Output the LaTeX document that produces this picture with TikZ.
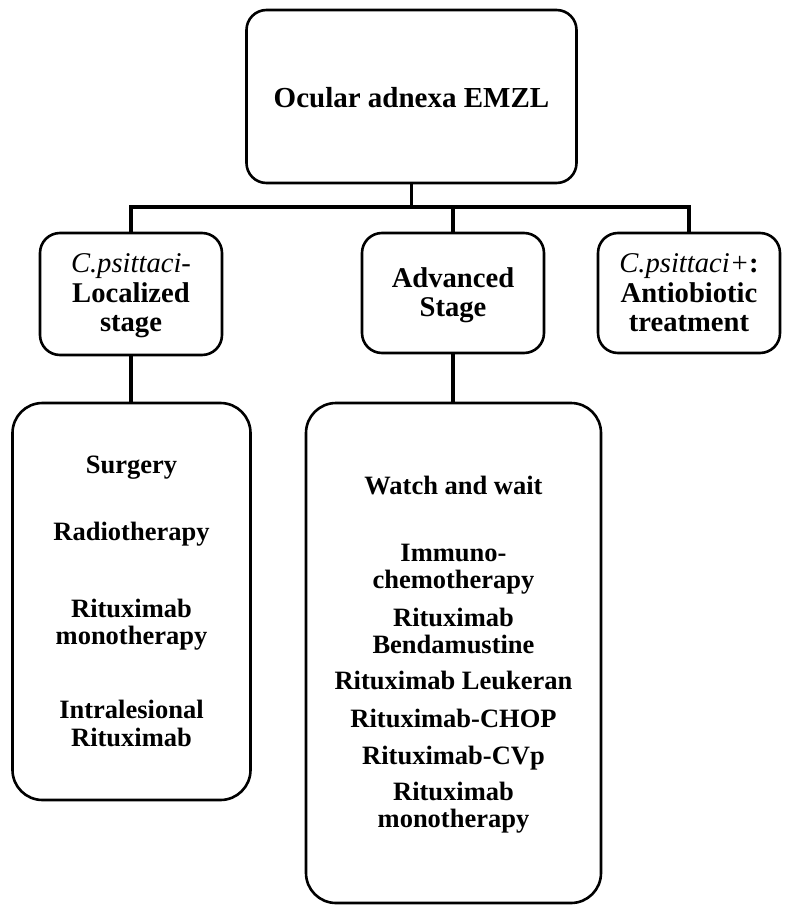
\documentclass[tikz,border=0pt]{standalone}
\usepackage{fontspec}
\setmainfont{Liberation Serif}
\begin{document}
\begin{tikzpicture}[x=1pt,y=-1pt,
  box/.style={draw=black,line width=2.6pt,rounded corners=20pt,inner sep=0pt},
  bigbox/.style={draw=black,line width=2.6pt,rounded corners=30pt,inner sep=0pt},
  conn/.style={draw=black,line width=3.6pt},
  toplbl/.style={anchor=base,inner sep=0pt,font=\fontsize{29}{31}\selectfont\bfseries},
  lbl/.style={anchor=base,inner sep=0pt,font=\fontsize{28.6}{30}\selectfont\bfseries},
  item/.style={anchor=base,inner sep=0pt,font=\fontsize{26.5}{28}\selectfont\bfseries}]
\useasboundingbox (0,0) rectangle (794,910);
% boxes
\node[box,minimum width=330pt,minimum height=173pt] (top) at (411.5,96.5) {};
\node[box,minimum width=182pt,minimum height=122pt] (b1) at (131,294) {};
\node[box,minimum width=182pt,minimum height=120pt] (b2) at (453,293) {};
\node[box,minimum width=182pt,minimum height=120pt] (b3) at (689,293) {};
\node[bigbox,minimum width=238pt,minimum height=397pt] (b4) at (131.5,601.5) {};
\node[bigbox,minimum width=295pt,minimum height=500pt] (b5) at (453.5,653) {};
% connectors
\coordinate (j) at (411.5,207);
\draw[conn] (top.south) -- (j);
\draw[conn,line cap=rect] (b1.north) -- (b1.north |- j) -- (b3.north |- j) -- (b3.north);
\draw[conn] (b2.north) -- (b2.north |- j);
\draw[conn] (b1.south) -- (b4.north -| b1.south);
\draw[conn] (b2.south) -- (b5.north -| b2.south);
% texts
\node[toplbl] (t0) at (411.5,107) {Ocular adnexa EMZL};
\node[lbl] (t1a) at (131,272) {\itshape\mdseries C.psittaci-};
\node[lbl] (t1b) at (131,302) {Localized};
\node[lbl] (t1c) at (131,331) {stage};
\node[lbl] (t2a) at (453,287) {Advanced};
\node[lbl] (t2b) at (453,316) {Stage};
\node[lbl] (t3a) at (689,272) {{\itshape\mdseries C.psittaci+}:};
\node[lbl] (t3b) at (689,302) {Antiobiotic};
\node[lbl] (t3c) at (689,331) {treatment};
% left list
\node[item] (s1) at (131.5,473) {Surgery};
\node[item] (s2) at (131.5,540) {Radiotherapy};
\node[item] (s3a) at (131.5,617) {Rituximab};
\node[item] (s3b) at (131.5,644) {monotherapy};
\node[item] (s4a) at (131.5,718) {Intralesional};
\node[item] (s4b) at (131.5,746) {Rituximab};
% right list
\node[item] (r1) at (453.5,494) {Watch and wait};
\node[item] (r2a) at (453.5,561) {Immuno-};
\node[item] (r2b) at (453.5,588) {chemotherapy};
\node[item] (r3a) at (453.5,626) {Rituximab};
\node[item] (r3b) at (453.5,653) {Bendamustine};
\node[item] (r4) at (453.5,689) {Rituximab Leukeran};
\node[item] (r5) at (453.5,727) {Rituximab-CHOP};
\node[item] (r6) at (453.5,764) {Rituximab-CVp};
\node[item] (r7a) at (453.5,800) {Rituximab};
\node[item] (r7b) at (453.5,827) {monotherapy};
\end{tikzpicture}
\end{document}
